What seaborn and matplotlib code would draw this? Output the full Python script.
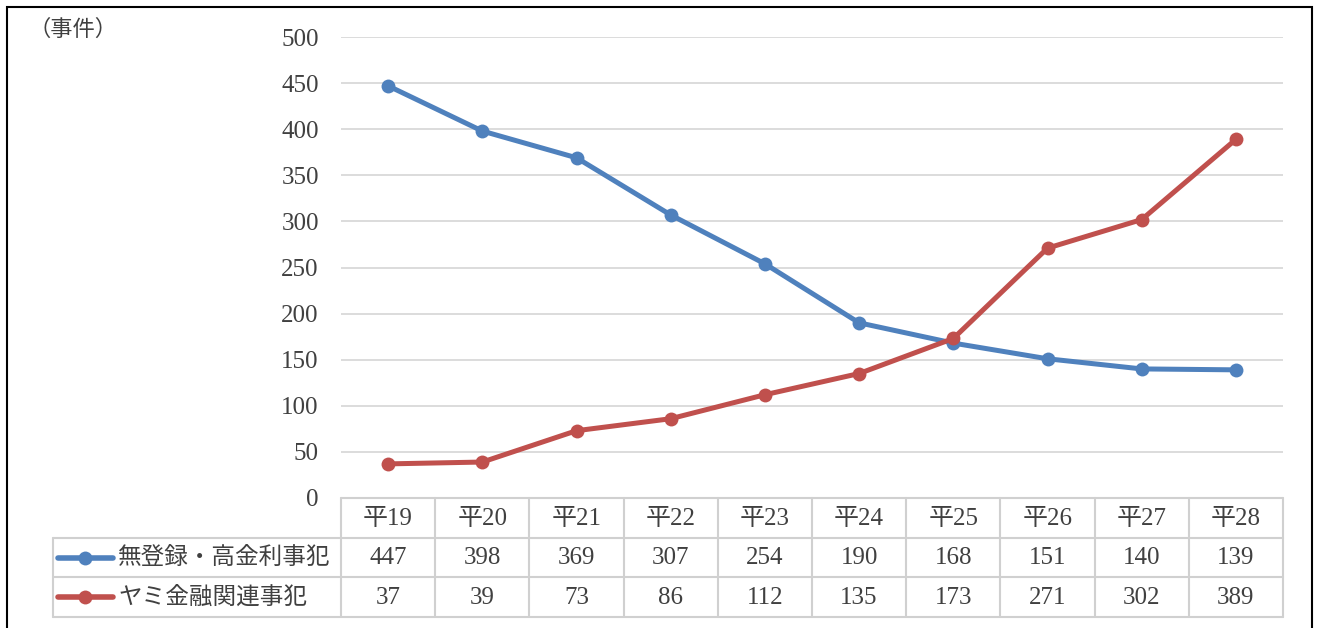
import matplotlib
matplotlib.use("Agg")
import matplotlib.pyplot as plt
import seaborn as sns
import pandas as pd
from matplotlib.patches import Rectangle

categories = ["平19", "平20", "平21", "平22", "平23", "平24", "平25", "平26", "平27", "平28"]
series_names = ["無登録・高金利事犯", "ヤミ金融関連事犯"]
values_a = [447, 398, 369, 307, 254, 190, 168, 151, 140, 139]
values_b = [37, 39, 73, 86, 112, 135, 173, 271, 302, 389]
y_ticks = [0, 50, 100, 150, 200, 250, 300, 350, 400, 450, 500]
unit_label = "（事件）"

colors = ["#4f81bd", "#c0504d"]
text_color = "#404040"
grid_color = "#d9d9d9"

sns.set_theme(style="white")
FAM = ["Liberation Serif", "Noto Sans CJK JP", "DejaVu Sans"]
plt.rcParams["font.family"] = FAM

W, H = 1320, 628
fig = plt.figure(figsize=(W / 100, H / 100), dpi=100)

# outer border
fig.patches.append(Rectangle((7 / W, -0.05), (1312 - 7) / W, 1 - 7 / H + 0.05,
                             transform=fig.transFigure, fill=False,
                             edgecolor="black", linewidth=1.5))

px_l, px_r, px_t, px_b = 341, 1283, 37, 498
ax = fig.add_axes([px_l / W, 1 - px_b / H, (px_r - px_l) / W, (px_b - px_t) / H])

df = pd.DataFrame({
    "x": list(range(len(categories))) * 2,
    "value": values_a + values_b,
    "series": [series_names[0]] * len(categories) + [series_names[1]] * len(categories),
})
sns.lineplot(data=df, x="x", y="value", hue="series", palette=colors, marker="o",
             markersize=10, markeredgewidth=0, linewidth=3.6, ax=ax, legend=False)

ax.set_xlim(-0.5, len(categories) - 0.5)
ax.set_ylim(0, 500)
ax.set_yticks(y_ticks)
ax.set_yticklabels([str(t) for t in y_ticks], fontsize=18, color=text_color)
ax.tick_params(axis="y", length=0, pad=16)
ax.set_xticks([])
ax.set_xlabel("")
ax.set_ylabel("")
for s in ax.spines.values():
    s.set_visible(False)
ax.grid(axis="y", color=grid_color, linewidth=1.3)
ax.set_axisbelow(True)

fig.text(28 / W, 1 - 30 / H, unit_label, fontsize=16, color=text_color,
         ha="left", va="center", family=FAM)

# data table
tl, tr, tt, tb = 53, 1283, 498, 617
tax = fig.add_axes([tl / W, 1 - tb / H, (tr - tl) / W, (tb - tt) / H])
col_w = (px_r - px_l) / len(categories)
x_left = -0.5 - (px_l - tl) / col_w
tax.set_xlim(x_left, len(categories) - 0.5)
tax.set_ylim(3, 0)
tax.axis("off")
lc = "#d0d0d0"
lw = 1.5
# header row borders
tax.plot([-0.5, len(categories) - 0.5], [0, 0], color=lc, lw=lw, clip_on=False)
for i in range(len(categories) + 1):
    tax.plot([i - 0.5, i - 0.5], [0, 3], color=lc, lw=lw, clip_on=False)
for y in [1, 2, 3]:
    tax.plot([x_left, len(categories) - 0.5], [y, y], color=lc, lw=lw, clip_on=False)
tax.plot([x_left, x_left], [1, 3], color=lc, lw=lw, clip_on=False)

for i, c in enumerate(categories):
    tax.text(i, 0.52, c, ha="center", va="center", fontsize=18, color=text_color, family=FAM)
for r, (name, vals, col) in enumerate(zip(series_names, [values_a, values_b], colors)):
    yy = 1.5 + r
    lx0 = x_left + (58 - tl) / col_w
    lx1 = x_left + (113 - tl) / col_w
    tax.plot([lx0, lx1], [yy, yy], color=col, lw=4, solid_capstyle="round", clip_on=False)
    tax.plot([(lx0 + lx1) / 2], [yy], "o", color=col, markersize=10, markeredgewidth=0, clip_on=False)
    tax.text(x_left + (118 - tl) / col_w, yy + 0.02, name, ha="left", va="center",
             fontsize=17, color=text_color, family=FAM)
    for i, v in enumerate(vals):
        tax.text(i, yy + 0.02, str(v), ha="center", va="center", fontsize=18,
                 color=text_color, family=FAM)

fig.savefig("out.png", dpi=100)
